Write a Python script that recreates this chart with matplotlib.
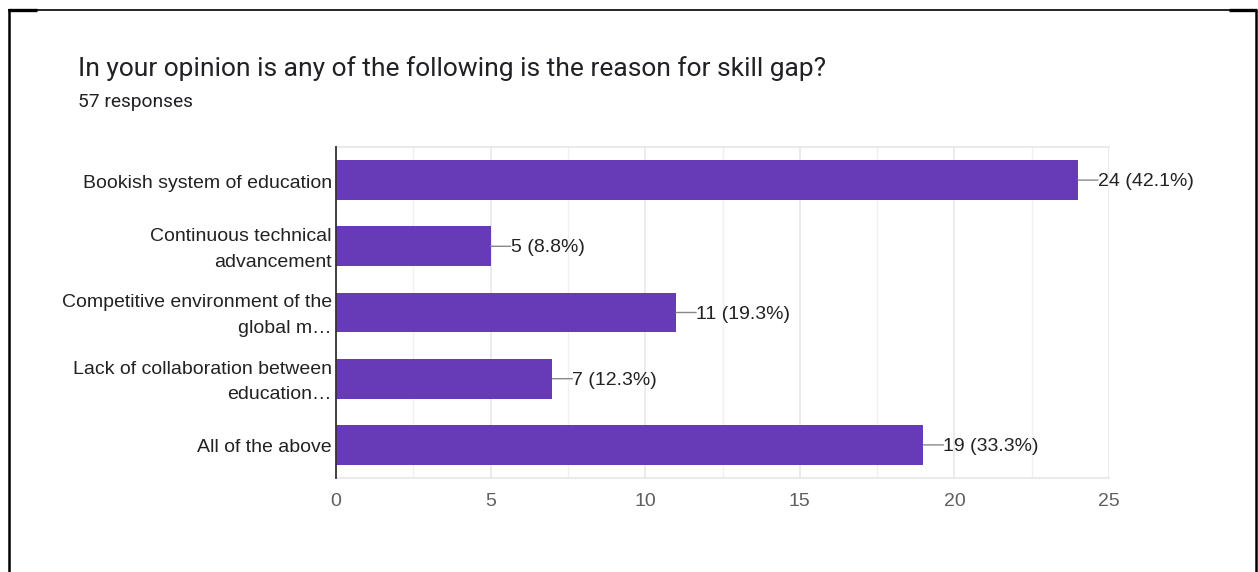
import matplotlib
matplotlib.use("Agg")
import matplotlib.pyplot as plt
from matplotlib.lines import Line2D
from matplotlib.ticker import MultipleLocator
from matplotlib.transforms import ScaledTranslation

plt.rcParams["font.family"] = ["Liberation Sans", "DejaVu Sans"]

# Survey data
categories = [
    "Bookish system of education",
    "Continuous technical\nadvancement",
    "Competitive environment of the\nglobal m\u2026",
    "Lack of collaboration between\neducation\u2026",
    "All of the above",
]
counts = [24, 5, 11, 7, 19]
total_responses = 57
title = "In your opinion is any of the following is the reason for skill gap?"

W, H = 1258, 572
fig = plt.figure(figsize=(W / 100, H / 100), dpi=100)
fig.patch.set_facecolor("white")

# Plot region in pixel units
left, right, top, bottom = 336, 1109, 147, 478
ax = fig.add_axes([left / W, 1 - bottom / H, (right - left) / W, (bottom - top) / H])

bar_color = "#673ab7"
ypos = list(range(len(categories)))
ax.barh(ypos, counts, height=0.6, color=bar_color, zorder=3)
ax.set_ylim(len(categories) - 0.5, -0.5)
ax.set_xlim(0, 25)

ax.xaxis.set_major_locator(MultipleLocator(5))
ax.xaxis.set_minor_locator(MultipleLocator(2.5))
ax.grid(which="major", axis="x", color="#e8e8e8", linewidth=1.2, zorder=0)
ax.grid(which="minor", axis="x", color="#f0f0f0", linewidth=1.0, zorder=0)

for side in ["top", "right", "bottom"]:
    ax.spines[side].set_color("#e6e6e6")
    ax.spines[side].set_linewidth(1.2)
ax.spines["right"].set_visible(False)
ax.spines["left"].set_color("#333333")
ax.spines["left"].set_linewidth(1.3)
ax.spines["left"].set_zorder(5)

ax.tick_params(axis="both", which="both", length=0)
ax.tick_params(axis="x", pad=11, labelsize=14, labelcolor="#5f5f5f")
ax.set_xticks([0, 5, 10, 15, 20, 25])
ax.set_xticklabels([str(v) for v in [0, 5, 10, 15, 20, 25]])
ax.set_yticks(ypos)
ax.set_yticklabels(categories, fontsize=14, color="#222222", linespacing=1.65)
ax.tick_params(axis="y", pad=3)

# Centre the wrapped labels on their bars
nudge_up = ScaledTranslation(0, 3 / 100, fig.dpi_scale_trans)
nudge_down = ScaledTranslation(0, -1 / 100, fig.dpi_scale_trans)
for lbl in ax.get_yticklabels():
    shift = nudge_up if "\n" in lbl.get_text() else nudge_down
    lbl.set_transform(lbl.get_transform() + shift)

# Value labels with short leader lines
for y, c in zip(ypos, counts):
    pct = c / total_responses * 100
    ax.annotate("", xy=(c, y), xytext=(14.4, 0), textcoords="offset points",
                arrowprops=dict(arrowstyle="-", color="#888888", lw=1.0,
                                shrinkA=0, shrinkB=0), annotation_clip=False)
    ax.annotate(f"{c} ({pct:.1f}%)", xy=(c, y), xytext=(14.4, -1.2),
                textcoords="offset points", va="center", ha="left",
                fontsize=14, color="#222222", annotation_clip=False)

# Heading
fig.text(78 / W, 1 - 69 / H, title, fontsize=19, color="#202124",
         family="Roboto", va="center", ha="left")
fig.text(78 / W, 1 - 102 / H, f"{total_responses} responses", fontsize=13.8,
         color="#202124", family="Roboto", va="center", ha="left")

# Outer frame
def px_line(x0, y0, x1, y1, lw):
    fig.add_artist(Line2D([x0 / W, x1 / W], [1 - y0 / H, 1 - y1 / H],
                          transform=fig.transFigure, color="black", lw=lw,
                          solid_capstyle="butt"))

px_line(8, 10, 1257, 10, 1.2)
px_line(9, 10, 9, 572, 1.8)
px_line(1256, 10, 1256, 572, 1.8)
px_line(8, 10, 37, 10, 2.4)
px_line(1229, 10, 1257, 10, 2.4)

fig.savefig("out.png", dpi=100, facecolor="white")
